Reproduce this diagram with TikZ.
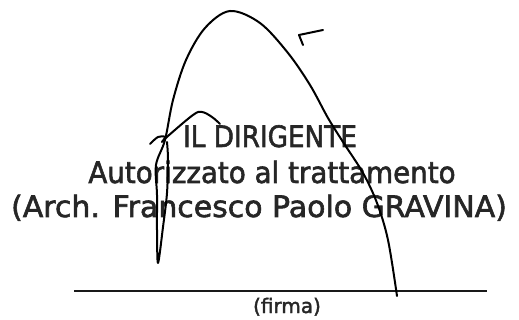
\documentclass[tikz,border=0pt]{standalone}
\usepackage{fontspec}
\setmainfont{DejaVu Sans}
\newfontface\blockfont{DejaVu Sans}[FakeBold=2]
\usepackage{tikz}
\usepackage{xcolor}

\begin{document}
\begin{tikzpicture}[x=1pt,y=-1pt,
    pen/.style={line width=2pt,line cap=round,line join=round},
    caption/.style={anchor=base,inner sep=0pt,text=black!85,font=\blockfont\fontsize{29.5}{34}\selectfont}]
        % Page area
        \useasboundingbox (0,0) rectangle (519,320);

        % Text of the signature block
        \node[caption] (title) at (270,147) {\scalebox{0.89}[1]{IL DIRIGENTE}};
        \node[caption] (role) at (272,183) {\scalebox{0.94}[1]{Autorizzato al trattamento}};
        \node[caption] (name) at (259,217) {\scalebox{1.015}[1]{(Arch. Francesco Paolo GRAVINA)}};

        % Signature line
        \coordinate (lineL) at (74,291);
        \coordinate (lineR) at (487,291);
        \draw[line width=1.8pt,black!90] (lineL) -- (lineR);
        \node[anchor=base,inner sep=0pt,text=black!85,font=\blockfont\fontsize{20}{24}\selectfont] (firma) at (287,313) {(firma)};

        % Handwritten signature
        \draw[pen] plot[smooth,tension=0.55] coordinates {(167,142) (168,160) (167,193) (163,227) (158,263)
            (157,230) (157,195) (156,165) (165,140) (173,100) (186,60) (205,28) (230,11) (260,23)
            (288,53) (310,85) (328,118) (343,142) (363,173) (377,203) (388,240) (397,296)};
        \draw[pen] plot[smooth,tension=0.6] coordinates {(150,144) (158,137) (165,137) (162,142) (168,136)
            (193,115) (202,112) (212,117) (220,124)};
        \draw[pen] (323,30) -- (299,35) -- (303,45);
    \end{tikzpicture}
\end{document}
